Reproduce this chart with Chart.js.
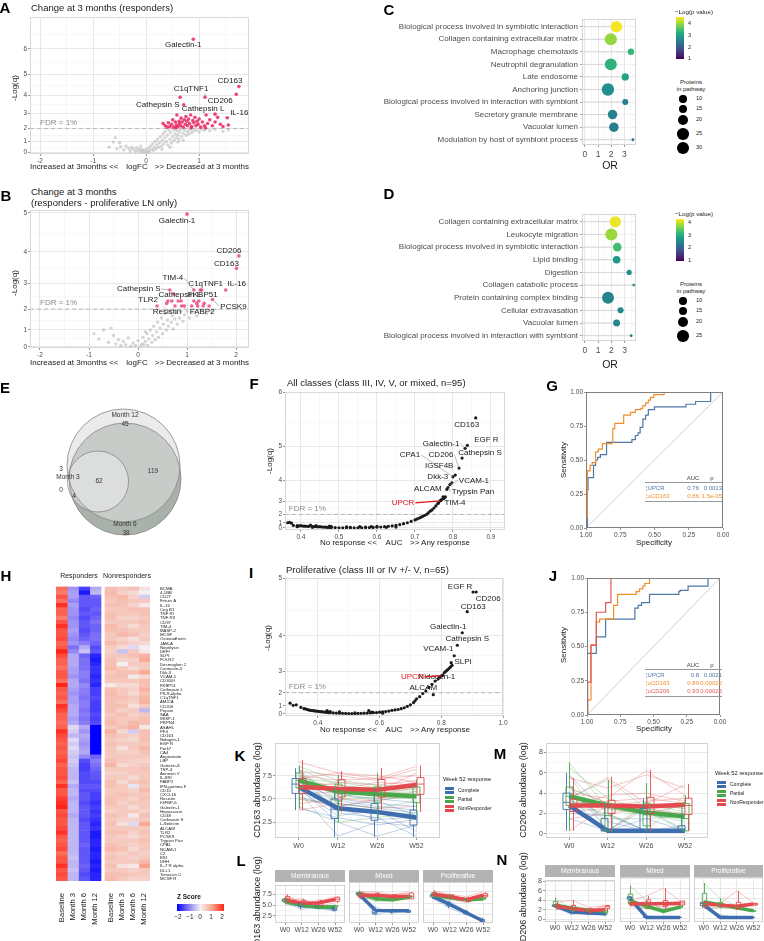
<!DOCTYPE html>
<html>
<head>
<meta charset="utf-8">
<title>Urine proteomics figure</title>
<script src="https://cdn.jsdelivr.net/npm/chart.js@4.4.1/dist/chart.umd.min.js"></script>
<style>
  body { margin: 0; background: #fff; }
  #stage { position: relative; width: 764px; height: 941px; overflow: hidden; font-family: 'Liberation Sans', Arial, sans-serif; color: #1a1a1a; }
  #stage canvas { position: absolute; }
  .t { position: absolute; white-space: nowrap; line-height: 1; z-index: 2; }
</style>
</head>
<body>
<div id="stage"></div>
<script>
// ---------- A: change at 3 months (responders) ----------
const logfcTicks = [-2, -1, 0, 1, 2];
const aYTicks = [0, 1, 2, 3, 4, 5, 6];
const aGray = [[-0.70,0.50],[-0.62,0.95],[-0.58,1.32],[-0.55,0.35],[-0.50,0.90],[-0.48,0.55],[-0.42,0.25],[-0.38,0.60],[-0.33,0.40],[-0.30,0.15],
  [-0.27,0.50],[-0.24,0.30],[-0.20,0.10],[-0.18,0.45],[-0.15,0.20],[-0.12,0.35],[-0.10,0.05],[-0.08,0.25],[-0.05,0.10],[-0.03,0.30],
  [0.00,0.02],[0.02,0.15],[0.04,0.40],[0.06,0.10],[0.08,0.60],[0.10,0.30],[0.12,0.80],[0.14,0.20],[0.15,0.50],[0.17,1.00],
  [0.19,0.35],[0.20,0.70],[0.22,1.20],[0.24,0.50],[0.25,0.90],[0.27,1.40],[0.29,0.60],[0.30,1.10],[0.32,1.60],[0.33,0.80],
  [0.35,1.30],[0.36,1.80],[0.38,1.00],[0.40,1.50],[0.41,0.70],[0.43,1.90],[0.45,1.20],[0.46,1.70],[0.48,0.90],[0.50,1.40],
  [0.52,1.90],[0.53,1.10],[0.55,1.60],[0.57,1.30],[0.58,1.85],[0.60,1.50],[0.62,1.20],[0.63,1.75],[0.65,1.95],[0.67,1.40],
  [0.70,1.65],[0.72,1.90],[0.75,1.50],[0.78,1.80],[0.80,1.60],[0.83,1.95],[0.86,1.70],[0.90,1.85],[0.95,1.90],[1.00,1.75],
  [1.05,1.95],[0.70,1.10],[0.60,0.95],[0.45,0.50],[0.30,0.30],[-0.10,0.60],[1.10,1.90],[1.20,1.85],[1.30,1.95],[1.45,1.80],[1.55,1.92]];
const aSig = [[0.32,2.35],[0.36,2.20],[0.40,2.10],[0.42,2.40],[0.45,2.15],[0.48,2.30],[0.50,2.60],[0.52,2.10],[0.55,2.45],[0.57,2.25],
  [0.58,2.90],[0.60,2.15],[0.62,2.50],[0.63,2.35],[0.65,2.20],[0.66,2.70],[0.68,2.45],[0.70,2.10],[0.72,2.60],[0.74,2.30],
  [0.75,2.80],[0.77,2.50],[0.78,2.20],[0.80,2.65],[0.82,2.35],[0.84,2.90],[0.86,2.15],[0.88,2.55],[0.90,2.40],[0.92,2.75],
  [0.94,2.20],[0.96,2.50],[0.98,2.30],[1.00,2.65],[1.03,2.10],[1.06,2.45],[1.10,2.20],[1.13,2.90],[1.16,2.35],[1.20,2.60],
  [1.25,2.20],[1.30,2.45],[1.35,2.75],[1.40,2.30],[1.45,2.15],[1.55,2.25],[0.56,2.05],[0.85,2.05],[1.12,2.05],[0.64,3.90]];
const aTagNames = ['Galectin-1', 'CD163', 'CD206', 'C1qTNF1', 'Cathepsin S', 'Cathepsin L', 'IL-16'];
const aTagX = [0.89, 1.75, 1.70, 1.11, 0.71, 1.30, 1.53];
const aTagY = [6.35, 4.43, 4.05, 3.90, 3.50, 2.95, 2.73];

// ---------- B: change at 3 months (proliferative only) ----------
const bYTicks = [0, 1, 2, 3, 4, 5];
const bGray = [[-0.90,0.80],[-0.80,0.50],[-0.70,1.00],[-0.60,0.30],[-0.50,0.70],[-0.45,0.20],[-0.40,0.45],[-0.35,0.10],[-0.30,0.35],[-0.25,0.15],
  [-0.20,0.55],[-0.15,0.05],[-0.10,0.25],[-0.05,0.10],[0.00,0.40],[0.05,0.05],[0.08,0.20],[0.10,0.60],[0.12,0.15],[0.15,0.35],
  [0.18,0.80],[0.20,0.10],[0.22,0.50],[0.25,1.00],[0.28,0.30],[0.30,0.70],[0.32,1.20],[0.35,0.45],[0.38,0.90],[0.40,1.40],
  [0.42,0.60],[0.45,1.10],[0.48,1.60],[0.50,0.80],[0.52,1.30],[0.55,1.80],[0.58,1.00],[0.60,1.50],[0.62,1.20],[0.65,1.90],
  [0.68,1.40],[0.70,1.70],[0.72,1.05],[0.75,1.55],[0.78,1.85],[0.80,1.30],[0.85,1.60],[0.88,1.90],[0.92,1.45],[0.95,1.75],
  [1.00,1.90],[1.05,1.60],[1.10,1.85],[1.20,1.70],[1.30,1.95],[1.40,1.80],[1.50,1.90],[-0.55,1.10],[0.15,0.90]];
const bSig = [[0.73,2.61],[1.27,2.76],[0.61,2.34],[0.82,2.34],[0.88,2.34],[1.14,2.34],[0.89,2.13],[0.945,2.13],[1.095,2.13],[1.218,2.13],
  [1.45,2.13],[1.20,2.24],[1.35,2.24],[0.585,2.24]];
const bTagNames = ['Galectin-1', 'CD206', 'CD163', 'IL-16', 'C1qTNF1', 'TIM-4', 'Cathepsin S', 'Cathepsin L', 'FKBP51', 'TLR2', 'PCSK9', 'Resistin', 'FABP2'];
const bTagX = [1.00, 2.06, 2.01, 1.79, 1.30, 1.14, 0.65, 0.69, 1.24, 0.39, 1.52, 0.755, 1.33];
const bTagY = [4.97, 3.88, 3.50, 2.76, 2.76, 2.76, 2.76, 2.34, 2.34, 2.13, 2.40, 2.13, 2.13];

// ---------- C / D: enrichment ----------
const cTerms = ['Biological process involved in symbiotic interaction', 'Collagen containing extracellular matrix', 'Macrophage chemotaxis',
  'Neutrophil degranulation', 'Late endosome', 'Anchoring junction', 'Biological process involved in interaction with symbiont',
  'Secretory granule membrane', 'Vacuolar lumen', 'Modulation by host of symbiont process'];
const cOR = [2.40, 1.97, 3.50, 1.97, 3.07, 1.75, 3.07, 2.10, 2.20, 3.65];
const cLogP = [4.40, 3.90, 3.30, 3.20, 3.00, 2.70, 2.50, 2.50, 2.45, 2.40];
const cCount = [25, 28, 8, 27, 10, 29, 7, 17, 17, 1.5];
const dTerms = ['Collagen containing extracellular matrix', 'Leukocyte migration', 'Biological process involved in symbiotic interaction',
  'Lipid binding', 'Digestion', 'Collagen catabolic process', 'Protein containing complex binding', 'Cellular extravasation',
  'Vacuolar lumen', 'Biological process involved in interaction with symbiont'];
const dOR = [2.30, 2.00, 2.45, 2.40, 3.35, 3.70, 1.75, 2.70, 2.40, 3.50];
const dLogP = [4.20, 3.80, 3.30, 2.75, 2.60, 2.60, 2.45, 2.50, 2.50, 2.40];
const dCount = [24, 27, 14, 11, 5, 1.5, 27, 7, 9, 1.5];
const orTicks = [0, 1, 2, 3];

// ---------- E: Venn ----------
const vennSets = ['Month 12', 'Month 6', 'Month 3'];
const vennCx = [0, 0.027, -0.451];
const vennCy = [0, -0.239, -0.283];
const vennR = [1, 0.991, 0.54];

// ---------- F / I: AUC vs -log(q) ----------
const fXTicks = [0.4, 0.5, 0.6, 0.7, 0.8, 0.9];
const fYTicks = [0, 1, 2, 3, 4, 5, 6];
const fPts = [[0.365,1.00],[0.370,1.05],[0.375,0.95],[0.380,0.55],[0.390,0.50],[0.395,0.45],[0.400,0.50],[0.405,0.42],[0.410,0.40],[0.415,0.38],
  [0.420,0.35],[0.425,0.60],[0.430,0.32],[0.435,0.30],[0.440,0.28],[0.445,0.25],[0.450,0.30],[0.455,0.22],[0.460,0.20],[0.465,0.18],
  [0.470,0.15],[0.475,0.12],[0.480,0.10],[0.490,0.08],[0.500,0.05],[0.510,0.03],[0.520,0.02],[0.530,0.02],[0.540,0.03],[0.550,0.05],
  [0.560,0.04],[0.570,0.08],[0.580,0.10],[0.590,0.12],[0.600,0.18],[0.610,0.22],[0.620,0.30],[0.630,0.38],[0.640,0.45],[0.650,0.55],
  [0.660,0.70],[0.670,0.85],[0.680,1.00],[0.690,1.20],[0.700,1.40],[0.705,1.50],[0.710,1.60],[0.715,1.70],[0.720,1.80],[0.725,1.90],
  [0.730,2.00],[0.735,2.15],[0.740,2.30],[0.745,2.40],[0.750,2.55],[0.755,2.70],[0.760,2.85],[0.762,2.90],[0.768,3.05],[0.770,3.10],
  [0.775,3.15],[0.778,3.20],[0.780,3.25],[0.530,0.15],[0.520,0.25],[0.570,0.20],[0.600,0.35],[0.440,0.50],[0.480,0.30],[0.650,0.20],
  [0.555,0.30],[0.475,0.40],[0.430,0.15],[0.390,0.30],[0.585,0.28],[0.625,0.15]];
const fTagNames = ['CD163', 'EGF R', 'Galectin-1', 'Cathepsin S', 'CD206', 'CPA1', 'IGSF4B', 'Dkk-3', 'VCAM-1', 'Trypsin Pan', 'ALCAM', 'TIM-4', 'UPCR'];
const fTagX = [0.860, 0.838, 0.832, 0.824, 0.816, 0.800, 0.806, 0.797, 0.792, 0.787, 0.784, 0.774, 0.766];
const fTagY = [5.58, 5.02, 4.95, 4.70, 4.41, 4.12, 4.18, 3.89, 3.82, 3.70, 3.62, 3.25, 3.02];
const iXTicks = [0.4, 0.6, 0.8, 1.0];
const iYTicks = [0, 1, 2, 3, 4, 5];
const iPts = [[0.310,1.25],[0.320,1.05],[0.330,1.10],[0.345,0.85],[0.355,0.70],[0.360,0.68],[0.365,0.60],[0.370,0.55],[0.375,0.50],[0.380,0.48],
  [0.385,0.45],[0.390,0.42],[0.395,0.40],[0.400,0.38],[0.405,0.35],[0.410,0.32],[0.415,0.30],[0.420,0.28],[0.425,0.25],[0.430,0.45],
  [0.430,0.22],[0.435,0.20],[0.440,0.18],[0.450,0.15],[0.460,0.12],[0.470,0.10],[0.480,0.08],[0.490,0.06],[0.500,0.05],[0.510,0.04],
  [0.520,0.05],[0.530,0.06],[0.540,0.08],[0.550,0.10],[0.560,0.12],[0.565,0.45],[0.570,0.15],[0.580,0.18],[0.590,0.20],[0.600,0.25],
  [0.610,0.30],[0.620,0.35],[0.630,0.40],[0.640,0.50],[0.650,0.55],[0.660,0.60],[0.670,0.70],[0.680,0.80],[0.690,0.95],[0.700,1.10],
  [0.710,1.30],[0.715,1.45],[0.720,1.60],[0.730,1.75],[0.740,1.95],[0.750,2.10],[0.760,2.30],[0.770,2.45],[0.780,2.60],[0.790,2.70],
  [0.795,2.78],[0.810,2.95],[0.815,3.00],[0.820,3.05],[0.825,3.10],[0.830,3.15],[0.835,3.20],[0.470,0.30],[0.520,0.15],[0.440,0.35],
  [0.575,0.25],[0.610,0.10]];
const iTagNames = ['EGF R', 'CD206', 'CD163', 'Galectin-1', 'Cathepsin S', 'VCAM-1', 'SLPI', 'Nidogen-1', 'UPCR', 'ALCAM'];
const iTagX = [0.903, 0.913, 0.884, 0.868, 0.852, 0.842, 0.832, 0.805, 0.800, 0.774];
const iTagY = [4.80, 4.80, 4.48, 4.07, 3.78, 3.50, 3.29, 2.85, 2.82, 1.88];

// ---------- G / J: ROC ----------
const rocTicks = [0, 0.25, 0.5, 0.75, 1];
const gUpcrSpec = [1.00,0.99,0.985,0.945,0.93,0.915,0.895,0.85,0.665,0.64,0.62,0.605,0.585,0.565,0.545,0.50,0.27,0.20,0.09,0.00];
const gUpcrSens = [0.00,0.28,0.37,0.46,0.50,0.52,0.54,0.63,0.65,0.68,0.70,0.74,0.80,0.83,0.87,0.89,0.91,0.93,1.00,1.00];
const gCd163Spec = [1.00,1.00,0.99,0.97,0.955,0.93,0.91,0.88,0.81,0.805,0.79,0.725,0.675,0.64,0.60,0.585,0.565,0.545,0.53,0.505,0.43,0.00];
const gCd163Sens = [0.00,0.08,0.42,0.46,0.48,0.56,0.58,0.62,0.63,0.73,0.77,0.83,0.85,0.87,0.88,0.90,0.92,0.94,0.96,0.98,1.00,1.00];
const jUpcrSpec = [1.00,1.00,0.93,0.86,0.64,0.615,0.59,0.53,0.31,0.30,0.24,0.09,0.00];
const jUpcrSens = [0.00,0.45,0.57,0.70,0.78,0.80,0.82,0.88,0.90,0.91,0.94,1.00,1.00];
const jCd163Spec = [1.00,0.995,0.97,0.93,0.905,0.80,0.77,0.63,0.605,0.58,0.565,0.53,0.00];
const jCd163Sens = [0.00,0.11,0.51,0.68,0.70,0.80,0.88,0.90,0.92,0.94,0.96,1.00,1.00];
const jCd206Spec = [1.00,0.995,0.97,0.93,0.86,0.82,0.00];
const jCd206Sens = [0.00,0.24,0.51,0.75,0.82,1.00,1.00];

// ---------- H: heatmap ----------
const heatRows = ['BCMA','4-1BB','CD27','Fetuin A','IL-16','Cng B1','TNF RI','TNF RII','CD97','TIM-4','MASP-2','MCSF','Osteoadherin','JAM-A',
  'Neprilysin','DEFI','SLPI','FOLR2','Desmoglein 2','Contactin-4','Dkk-3','VCAM-1','CD300f','FKBP51','Cathepsin L','PILR-alpha','C1qTNF1',
  'AMICA','CD206','Pepsin','SAA','WISP-1','PRPN4','ASAHL','PF4','CD163','Nidogen-1','EGF R','Park7','CA4','Angiostatin','LBP','Galectin-8',
  'TSP-4','Annexin V','IL-8RI','FABP2','IFN-gamma R1','CD10','CXCL16','Resistin','IGFBP-6','Galectin-1','Hepassocin','CD48','Cathepsin S',
  'L-Selectin','ALCAM','TLR2','PCSK9','Trypsin Pan','CPA1','NCAM-1','C2','ESI','DHH','IL-7 R alpha','DLL1','Tenascin C','MCSF R'];
const heatCols = ['Baseline', 'Month 3', 'Month 6', 'Month 12'];
const zRespBase = [1.4,1.3,1.6,1.4,1.9,1.5,1.5,1.3,1.6,1.9, 1.6,1.6,1.7,1.5,1.6,2.3,1.7,1.5,1.5,1.4, 1.6,1.6,1.4,2.3,1.6,1.5,1.6,1.4,1.9,1.7,
  1.5,1.5,1.4,1.5,1.9,1.7,1.6,1.5,1.6,1.5, 1.6,1.7,1.5,1.6,1.6,1.7,1.5,1.9,1.6,1.6, 1.8,1.9,2.0,1.6,1.7,1.6,1.6,1.7,1.9,1.6, 1.5,1.6,1.7,1.4,1.6,1.6,1.9,1.6,1.7,1.6];
const zRespM3 = [-0.8,-0.7,-0.7,-0.9,-0.7,-0.8,-0.8,-0.9,-0.8,-0.8, -0.7,-0.8,-0.9,-0.8,-1.1,-0.9,-0.6,-0.6,-0.6,-0.7, -0.7,-0.8,-0.6,-0.6,-0.7,-0.8,-0.7,-0.7,-0.6,-0.6,
  -0.6,-0.7,-0.6,-0.2,-0.3,-0.5,-0.2,-0.3,-0.2,-0.3, -0.4,-0.3,-0.4,-0.5,-0.5,-0.5,-0.4,-0.6,-0.5,-0.5, -0.6,-0.5,-0.5,-0.5,-0.6,-0.5,-0.5,-0.5,-0.5,-0.5, -0.5,-0.5,-0.5,-0.5,-0.4,-0.5,-0.5,-0.4,-0.5,-0.5];
const zRespM6 = [-1.5,-1.8,-1.3,-1.3,-1.3,-1.4,-1.3,-1.4,-1.3,-1.3, -1.4,-1.3,-1.2,-1.0,-0.6,-0.4,-1.2,-1.1,-1.1,-1.1, -1.0,-1.0,-1.1,-0.9,-1.0,-1.0,-1.1,-1.0,-1.0,-1.1,
  -1.0,-1.1,-1.0,-0.6,-0.8,-0.6,-0.7,-0.8,-0.7,-0.6, -0.9,-1.4,-1.5,-1.5,-1.4,-1.4,-1.4,-1.3,-1.4,-1.3, -1.3,-1.4,-1.3,-1.3,-1.3,-1.4,-1.3,-1.3,-1.3,-1.3, -1.3,-1.2,-1.3,-1.3,-1.3,-1.3,-1.2,-1.3,-1.4,-1.3];
const zRespM12 = [-0.6,-0.5,-1.2,-1.3,-1.3,-1.2,-1.3,-1.2,-1.1,-1.2, -1.2,-1.1,-1.1,-1.2,-1.4,-1.3,-1.7,-1.8,-1.7,-1.6, -1.6,-1.7,-1.6,-1.7,-1.5,-1.5,-1.4,-1.5,-1.5,-1.5,
  -1.4,-1.5,-1.4,-2.3,-2.2,-2.5,-2.5,-2.4,-2.5,-2.3, -1.2,-1.0,-1.1,-1.2,-1.3,-1.3,-1.4,-1.3,-1.4,-1.5, -1.5,-1.6,-1.5,-1.6,-1.5,-1.6,-1.7,-1.6,-1.8,-1.8, -1.7,-1.7,-1.8,-1.7,-1.7,-1.8,-1.7,-1.8,-1.7,-1.7];
const zNonBase = [0.6,0.7,0.6,0.5,0.6,0.5,0.6,0.6,0.5,0.7, 0.6,0.5,0.5,0.7,0.5,0.4,0.5,0.6,0.6,0.7, 0.5,0.6,0.5,0.1,0.6,0.7,0.6,0.6,0.6,0.6,
  0.5,0.6,0.7,0.5,0.8,0.6,0.5,0.6,0.5,0.5, 0.5,0.6,0.8,0.5,0.4,0.5,0.6,0.6,0.5,0.5, 0.6,0.6,0.5,0.4,0.6,0.5,0.6,0.5,0.6,0.5, 0.5,0.6,0.7,0.5,0.6,0.5,0.6,0.5,0.6,0.7];
const zNonM3 = [0.5,0.4,0.7,0.6,0.6,0.5,0.5,0.4,0.5,0.5, 0.6,0.7,0.4,0.5,0.3,-0.4,0.5,0.4,0.0,0.5, 0.6,0.6,0.5,0.3,0.5,0.5,0.6,0.5,0.6,0.4,
  0.6,0.5,0.5,0.6,0.3,0.5,0.4,0.5,0.2,0.4, 0.5,0.5,0.3,0.5,0.4,0.5,0.3,0.5,0.5,0.6, 0.5,0.4,0.5,0.5,0.5,0.4,0.2,0.5,0.6,0.4, 0.5,0.5,0.6,0.4,0.5,0.5,0.2,0.5,0.6,0.5];
const zNonM6 = [0.6,0.3,0.4,0.5,0.4,0.6,0.5,0.4,0.5,0.3, 0.5,0.6,0.2,0.4,-0.2,0.5,0.6,0.4,0.5,0.3, 0.6,0.1,0.5,0.3,0.4,0.3,0.5,0.4,0.2,0.5,
  0.4,0.5,0.7,0.8,-0.3,0.4,0.3,0.5,0.5,0.4, 0.5,0.4,0.4,0.5,0.5,0.3,0.5,-0.1,0.4,0.5, 0.4,0.5,0.3,0.5,0.1,0.4,-0.2,0.5,0.4,0.3, 0.5,0.4,0.3,0.5,0.4,0.5,0.1,0.4,0.5,0.4];
const zNonM12 = [0.2,0.0,-0.3,0.5,0.1,0.6,0.6,0.5,0.6,0.5, 0.5,0.4,0.5,0.3,0.0,0.1,0.8,0.9,0.5,0.5, 0.9,0.3,0.6,0.6,0.8,0.6,0.7,0.8,0.5,-0.5,
  0.5,0.6,0.6,0.1,0.6,0.6,0.6,0.5,0.7,0.6, 0.5,0.4,0.5,0.6,0.5,0.5,0.6,0.5,0.7,0.5, 0.6,0.5,0.5,0.4,0.6,0.5,0.9,0.5,0.6,0.5, 0.6,0.5,0.5,0.4,0.5,0.7,1.0,0.5,0.5,0.4];

// ---------- K / M / L / N: trajectories ----------
const weeks = ['W0', 'W12', 'W26', 'W52'];
const groups = ['Complete', 'Partial', 'NonResponder'];
const kMean = [[6.3,4.0,3.6,3.0], [7.0,5.8,5.5,5.3], [6.3,6.1,6.0,6.5]];
const kBox = [
  [[3.8,5.6,6.6,7.2,8.3], [0.9,2.9,3.9,5.0,6.2], [0.9,2.7,3.6,4.5,6.0], [0.9,2.2,3.0,3.8,5.0]],
  [[4.0,6.2,7.0,7.8,8.6], [2.5,4.8,5.9,6.6,7.6], [3.0,4.6,5.6,6.3,7.8], [3.4,4.6,5.4,6.3,7.0]],
  [[3.8,5.6,6.4,7.2,9.2], [3.6,5.2,6.2,7.1,8.0], [3.8,5.2,6.1,7.1,8.3], [3.6,5.5,6.6,7.3,8.6]]];
const kLines = [
  [[6.5,3.8,3.5,2.8],[7.5,4.5,4.0,3.5],[5.8,1.0,2.5,2.0],[6.8,5.0,4.5,4.2],[7.8,3.5,3.0,1.0],[5.2,4.2,4.8,3.2],[6.2,2.5,1.0,2.2],[7.2,5.5,5.0,4.6],[4.0,3.0,2.2,2.8],[8.2,4.8,4.2,3.8],[6.0,3.2,3.8,1.5],[7.0,4.0,2.8,3.0]],
  [[7.5,6.0,5.8,5.6],[8.2,6.5,6.0,5.8],[6.0,5.0,5.2,5.0],[7.0,5.5,4.8,5.5],[8.5,7.0,6.5,6.2],[5.0,4.5,4.0,4.8],[6.5,6.2,5.5,5.2],[7.8,5.2,5.8,5.4],[4.2,2.5,3.0,3.5],[7.2,6.8,6.2,6.0]],
  [[6.5,6.2,6.0,6.8],[7.5,7.0,7.2,7.5],[5.5,5.8,5.5,6.2],[8.0,7.5,7.0,8.2],[4.5,5.0,4.8,5.5],[6.0,6.8,6.5,7.0],[9.0,7.8,7.2,8.5],[5.0,4.2,5.0,5.8],[7.0,6.0,6.8,6.5],[6.8,6.5,5.8,7.8],[3.8,4.5,4.0,4.2],[7.2,7.8,7.5,6.8]]];
const mMean = [[2.8,0.3,0.3,0.3], [3.7,2.8,2.1,1.7], [2.8,2.8,2.7,2.85]];
const mBox = [
  [[0.3,2.4,3.1,4.0,6.0], [0.3,0.3,0.3,1.5,3.0], [0.3,0.3,0.3,2.5,3.5], [0.3,0.3,0.3,0.8,2.0]],
  [[0.3,2.8,3.7,4.6,7.0], [0.3,0.3,1.8,3.0,5.3], [0.3,0.8,1.9,3.0,5.0], [0.3,0.3,1.5,3.0,3.8]],
  [[0.3,2.2,2.8,3.4,5.5], [0.3,2.0,2.7,3.3,5.6], [0.3,2.0,2.8,3.6,6.3], [0.3,1.9,2.8,3.5,4.9]]];
const mLines = [
  [[3.5,0.3,0.3,0.3],[5.8,2.0,0.3,0.3],[2.5,0.3,1.5,0.3],[4.2,1.2,0.3,0.3],[3.0,0.3,0.3,0.8],[2.0,1.8,0.3,0.3],[4.8,0.3,2.5,0.3],[1.5,0.3,0.3,0.3]],
  [[7.0,2.5,1.8,1.5],[4.5,3.0,2.0,1.2],[3.5,5.3,2.5,2.0],[5.8,0.3,3.0,2.5],[2.8,2.0,0.3,3.8],[6.5,3.5,2.2,0.3],[4.0,1.5,1.5,1.8],[3.2,2.8,2.8,2.2]],
  [[3.0,3.2,3.5,3.0],[5.5,4.5,5.8,4.5],[2.2,2.5,2.0,2.8],[4.0,3.5,6.2,3.8],[1.5,2.0,2.5,1.8],[3.5,5.5,3.0,4.8],[2.8,0.3,2.8,2.5],[0.3,2.8,3.2,3.5],[4.5,3.0,2.2,2.0],[2.5,3.8,4.0,3.2]]];
const classes = ['Membranous', 'Mixed', 'Proliferative'];
const lMean = [
  [[6.0,4.8,4.6,4.3], [5.8,5.0,4.4,4.6], [6.2,5.4,5.5,6.3]],
  [[7.0,3.5,3.4,3.4], [7.2,6.0,5.8,6.4], [6.8,6.8,6.5,6.6]],
  [[6.5,4.8,3.0,1.2], [6.8,6.3,5.8,6.0], [7.0,6.5,5.8,6.8]]];
const lLines = [
  [[[6.5,5.2,4.8,4.0],[5.5,4.0,4.5,4.8],[6.2,5.5,4.2,3.5]], [[6.2,5.5,4.2,4.8],[5.2,4.8,4.6,4.2],[6.8,5.0,4.8,5.0]], [[6.8,6.0,5.8,7.0],[5.5,4.8,6.2,6.0],[7.5,5.5,5.0,6.8],[6.0,6.5,4.8,5.5]]],
  [[[7.5,3.0,3.8,3.0],[6.5,4.2,2.8,3.8],[7.2,2.5,3.5,3.2]], [[7.8,6.5,6.0,6.8],[6.5,5.5,5.5,6.0],[7.0,6.2,6.2,6.5]], [[7.5,7.5,7.0,7.2],[6.0,6.2,6.0,6.0],[7.2,7.0,6.8,7.5],[6.5,6.8,6.2,6.0]]],
  [[[7.0,5.0,3.5,1.0],[6.0,4.0,2.5,1.8],[6.8,5.5,3.2,1.2]], [[7.5,6.8,6.0,6.5],[6.2,5.8,5.5,5.8],[7.0,6.5,5.8,6.0]], [[7.8,7.0,6.5,7.5],[6.5,6.0,5.2,6.2],[7.2,6.8,5.5,7.0],[6.8,6.2,6.0,6.5]]]];
const nMean = [
  [[2.8,1.5,1.3,1.2], [3.0,2.3,1.9,1.7], [2.8,2.2,1.8,2.0]],
  [[4.0,0.3,0.3,0.3], [3.5,2.5,1.5,2.3], [3.0,2.9,3.0,3.0]],
  [[2.7,0.3,0.3,0.3], [3.3,2.8,2.2,1.6], [3.0,2.7,2.5,2.9]]];
const nLines = [
  [[[3.2,1.8,1.0,0.8],[2.5,1.0,1.5,1.5],[2.8,2.0,1.2,1.0]], [[4.5,2.0,1.8,1.5],[2.5,2.8,2.2,2.0],[3.0,1.5,1.5,1.2]], [[3.5,4.0,2.5,2.8],[2.0,2.5,1.2,1.5],[3.0,1.5,2.0,2.5],[2.5,2.2,1.5,3.0]]],
  [[[4.5,0.3,0.3,0.3],[3.5,0.3,0.3,0.3],[4.2,0.6,0.3,0.3]], [[6.5,3.5,1.8,2.5],[2.8,2.0,1.2,2.0],[3.2,2.2,1.5,2.5]], [[3.5,4.5,6.0,3.5],[2.5,2.0,2.5,2.8],[3.2,3.0,2.8,3.5],[2.8,3.5,2.0,2.5]]],
  [[[3.0,0.3,0.3,0.3],[2.2,0.8,0.3,0.3],[3.5,0.3,0.5,0.3]], [[7.0,4.0,2.5,1.5],[2.5,2.2,2.0,1.8],[3.0,2.5,2.2,1.5]], [[3.5,3.0,5.5,3.2],[2.5,2.5,2.0,2.8],[3.2,2.8,1.8,3.0],[2.0,2.2,2.5,2.5]]]];

// ================= helpers =================
const stage = document.getElementById('stage');
const FONT = "'Liberation Sans', Arial, Helvetica, sans-serif";
Chart.defaults.font.family = FONT;
Chart.defaults.color = '#4d4d4d';
Chart.defaults.animation = false;
Chart.defaults.responsive = false;
Chart.defaults.events = [];
Chart.defaults.plugins.legend.display = false;
Chart.defaults.plugins.tooltip.enabled = false;

const GRID = '#e4e4e4', GRID_MINOR = '#f2f2f2';
const GC = ['#3e6eae', '#4aa84b', '#e34a4f'];
const GCA = ['rgba(62,110,174,0.45)', 'rgba(74,168,75,0.45)', 'rgba(227,74,79,0.45)'];
const DODGE = [-0.09, 0, 0.09];
const RED = '#e8141c';

function hexRgb(h) { const n = parseInt(h.slice(1), 16); return [n >> 16, (n >> 8) & 255, n & 255]; }
function mix(a, b, t) {
  const A = hexRgb(a), B = hexRgb(b);
  return 'rgb(' + A.map((v, i) => Math.round(v + (B[i] - v) * t)).join(',') + ')';
}
const VIR = ['#440154','#482475','#414487','#355f8d','#2a788e','#21918c','#22a884','#44bf70','#7ad151','#bddf26','#fde725'];
function viridis(t) {
  t = Math.max(0, Math.min(1, t));
  const p = t * 10, i = Math.min(9, Math.floor(p));
  return mix(VIR[i], VIR[i + 1], p - i);
}
const ZSTOPS = [[-2, '#0000ff'], [-1, '#8a7cf6'], [0, '#f4f0f2'], [1, '#f8a28b'], [2, '#ff2418']];
function zColor(z) {
  z = Math.max(-2, Math.min(2, z));
  for (let i = 0; i < ZSTOPS.length - 1; i++) {
    if (z <= ZSTOPS[i + 1][0]) return mix(ZSTOPS[i][1], ZSTOPS[i + 1][1], (z - ZSTOPS[i][0]) / (ZSTOPS[i + 1][0] - ZSTOPS[i][0]));
  }
  return ZSTOPS[ZSTOPS.length - 1][1];
}
const sizeR = n => 1.15 * Math.sqrt(n);
// stretched -log(q) axis used in the volcano-type panels
const expo = b => y => (Math.pow(b, y) - 1) / (b - 1);

function txt(x, y, s, size, o) {
  o = o || {};
  const d = document.createElement('div');
  d.className = 't';
  d.textContent = s;
  const tx = o.a === 'c' ? '-50%' : o.a === 'r' ? '-100%' : '0';
  d.style.cssText += `left:${x}px;top:${y}px;font-size:${size}px;transform:translate(${tx},-50%)${o.rot ? ' rotate(-90deg)' : ''};` + (o.css || '');
  stage.appendChild(d);
  return d;
}
function rect(x, y, w, h, css) {
  const d = document.createElement('div');
  d.style.cssText = `position:absolute;left:${x}px;top:${y}px;width:${w}px;height:${h}px;` + css;
  stage.appendChild(d);
  return d;
}

function mount(b) {
  const c = document.createElement('canvas');
  const x = b.L - b.ml, y = b.T - b.mt, w = b.R + b.mr - x, h = b.B + b.mb - y;
  c.width = w; c.height = h;
  c.style.left = x + 'px'; c.style.top = y + 'px';
  c.style.width = w + 'px'; c.style.height = h + 'px';
  stage.appendChild(c);
  return c;
}
function pad(b, yShown) { return { top: b.mt, right: b.mr, left: yShown ? 0 : b.ml, bottom: 0 }; }

// linear axis with fixed major ticks, optional minor grid lines between them
function mkAxis(o) {
  const f = o.map || (v => v);
  let vals = o.major.slice();
  if (o.minor) {
    const st = vals[1] - vals[0], mids = [vals[0] - st / 2, vals[vals.length - 1] + st / 2];
    for (let i = 0; i < vals.length - 1; i++) mids.push((vals[i] + vals[i + 1]) / 2);
    vals = vals.concat(mids);
  }
  vals = vals.filter(v => f(v) >= o.min - 1e-9 && f(v) <= o.max + 1e-9).sort((a, b) => a - b);
  const labels = vals.map(v => o.major.includes(v) ? (o.fmt ? o.fmt(v) : String(v)) : '');
  const hide = o.hideLabels;
  return {
    type: 'linear', min: o.min, max: o.max, reverse: !!o.reverse,
    afterBuildTicks: s => { s.ticks = vals.map(v => ({ value: f(v) })); },
    afterFit: s => { if (s.isHorizontal()) s.height = o.size; else s.width = o.size; },
    ticks: { display: !hide, callback: (v, i) => labels[i], font: { size: o.fs || 6.5 }, color: o.tc || '#4d4d4d',
      padding: o.pad == null ? 1 : o.pad, autoSkip: false, maxRotation: 0, minRotation: 0 },
    grid: {
      drawOnChartArea: o.grid !== false,
      color: c => labels[c.index] === '' ? GRID_MINOR : GRID,
      lineWidth: c => labels[c.index] === '' ? 0.6 : 0.9,
      drawTicks: !hide, tickLength: o.tl == null ? 2 : o.tl,
      tickColor: c => labels[c.index] === '' ? 'rgba(0,0,0,0)' : '#8c8c8c'
    },
    border: { display: false }
  };
}

// ---------- plugins ----------
const framePlugin = {
  id: 'frame',
  afterDatasetsDraw(chart, args, o) {
    if (!o.color) return;
    const a = chart.chartArea, ctx = chart.ctx;
    ctx.save();
    ctx.strokeStyle = o.color; ctx.lineWidth = o.width || 1;
    ctx.strokeRect(Math.round(a.left) + 0.5, Math.round(a.top) + 0.5, Math.round(a.width) - 1, Math.round(a.height) - 1);
    ctx.restore();
  }
};
const boxPlugin = {
  id: 'boxes',
  afterDatasetsDraw(chart, args, o) {
    if (!o.items) return;
    const ctx = chart.ctx, xs = chart.scales.x, ys = chart.scales.y, hw = o.halfWidth;
    ctx.save();
    ctx.lineWidth = 0.9;
    o.items.forEach(b => {
      const cx = Math.round(xs.getPixelForValue(b.x)) + 0.5;
      const [lo, q1, med, q3, hi] = b.s.map(v => ys.getPixelForValue(v));
      ctx.strokeStyle = b.color;
      ctx.beginPath();
      ctx.moveTo(cx, lo); ctx.lineTo(cx, q1);
      ctx.moveTo(cx, q3); ctx.lineTo(cx, hi);
      ctx.rect(cx - hw, q3, 2 * hw, q1 - q3);
      ctx.moveTo(cx - hw, med); ctx.lineTo(cx + hw, med);
      ctx.stroke();
    });
    ctx.restore();
  }
};
const tagPlugin = {
  id: 'tags',
  afterDatasetsDraw(chart, args, o) {
    if (!o.items) return;
    const ctx = chart.ctx, xs = chart.scales.x, ys = chart.scales.y;
    ctx.save();
    ctx.font = o.font;
    ctx.textBaseline = 'middle';
    o.items.forEach(it => {
      const px = xs.getPixelForValue(it.x), py = ys.getPixelForValue(it.y);
      const tx = px + it.dx, ty = py + it.dy, align = it.align || 'center';
      const w = ctx.measureText(it.text).width;
      if (it.line) {
        const left = align === 'left' ? tx : tx - w / 2, right = left + w;
        const ex = px < left ? left - 1 : px > right ? right + 1 : px;
        const ey = ex === px ? ty + (py > ty ? 4 : -4) : ty;
        ctx.strokeStyle = it.lineColor || '#8c8c8c';
        ctx.lineWidth = it.lineWidth || 0.6;
        ctx.beginPath(); ctx.moveTo(px, py); ctx.lineTo(ex, ey); ctx.stroke();
      }
      ctx.fillStyle = it.color || '#1a1a1a';
      ctx.textAlign = align;
      ctx.fillText(it.text, tx, ty);
    });
    ctx.restore();
  }
};
const vennPlugin = {
  id: 'venn',
  beforeDatasetsDraw(chart, args, o) {
    if (!o.circles) return;
    const ctx = chart.ctx, xs = chart.scales.x, ys = chart.scales.y;
    const geo = o.circles.map(c => {
      const px = xs.getPixelForValue(c.x), py = ys.getPixelForValue(c.y);
      return { px, py, r: Math.abs(xs.getPixelForValue(c.x + c.r) - px), fill: c.fill };
    });
    ctx.save();
    o.order.forEach(i => { const g = geo[i]; ctx.beginPath(); ctx.arc(g.px, g.py, g.r, 0, Math.PI * 2); ctx.fillStyle = g.fill; ctx.fill(); });
    ctx.strokeStyle = '#858585'; ctx.lineWidth = 0.8;
    geo.forEach(g => { ctx.beginPath(); ctx.arc(g.px, g.py, g.r, 0, Math.PI * 2); ctx.stroke(); });
    ctx.restore();
  }
};
Chart.register(framePlugin, boxPlugin, tagPlugin, vennPlugin);

function tagsFrom(names, xs, ys, offs, extra) {
  return names.map((n, i) => Object.assign({ text: n, x: xs[i], y: ys[i], dx: offs[n][0], dy: offs[n][1], line: !!offs[n][2] }, (extra && extra[n]) || {}));
}

// ---------- chart builders ----------
function volcano(b, o) {
  const f = expo(o.base);
  const P = arr => arr.map(p => ({ x: p[0], y: f(p[1]) }));
  const fdr = f(2);
  const items = o.tags.map(t => Object.assign({}, t, { y: f(t.y) }));
  items.unshift({ x: o.fdrX, y: fdr, text: 'FDR = 1%', dx: 0, dy: -6, color: '#8a8a8a', align: 'left' });
  new Chart(mount(b), {
    type: 'scatter',
    data: { datasets: [
      { data: P(o.hi), backgroundColor: o.hiColor, pointRadius: o.hiR, borderWidth: 0 },
      { data: P(o.lo), backgroundColor: 'rgba(178,178,178,0.55)', pointRadius: 1.7, borderWidth: 0 },
      { type: 'line', data: [{ x: o.xMin, y: fdr }, { x: o.xMax, y: fdr }], borderColor: '#b3b3b3', borderWidth: 0.9, borderDash: [4, 3], pointRadius: 0 }
    ] },
    options: {
      layout: { padding: pad(b, true) },
      scales: {
        x: mkAxis({ min: o.xMin, max: o.xMax, major: o.xTicks, minor: true, size: b.mb, fmt: o.xFmt }),
        y: mkAxis({ min: o.yMin, max: o.yMax, major: o.yTicks, minor: true, map: f, size: b.ml })
      },
      plugins: { frame: { color: '#d9d9d9' }, tags: { items, font: '8px ' + FONT } }
    }
  });
}

function dotPlot(b, terms, or, logp, count, vmax) {
  const stems = terms.map((t, i) => ({ type: 'line', data: [{ x: -0.22, y: i + 1 }, { x: or[i], y: i + 1 }], borderColor: '#d6d6d6', borderWidth: 1, pointRadius: 0 }));
  const dots = { type: 'bubble', data: terms.map((t, i) => ({ x: or[i], y: i + 1, r: sizeR(count[i]) })),
    backgroundColor: logp.map(v => viridis((v - 1) / (vmax - 1))), borderWidth: 0 };
  new Chart(mount(b), {
    type: 'bubble',
    data: { datasets: [dots].concat(stems) },
    options: {
      layout: { padding: pad(b, true) },
      scales: {
        x: mkAxis({ min: -0.22, max: 3.87, major: orTicks, minor: true, size: b.mb, fs: 8.5, pad: 3 }),
        y: {
          type: 'linear', min: 0.37, max: 10.42, reverse: true,
          afterBuildTicks: s => { s.ticks = terms.map((t, i) => ({ value: i + 1 })); },
          afterFit: s => { s.width = b.ml; },
          ticks: { callback: (v, i) => terms[i], font: { size: 8 }, color: '#4d4d4d', padding: 2, autoSkip: false },
          grid: { color: '#ececec', lineWidth: 0.8, tickLength: 2, tickColor: '#8c8c8c' },
          border: { display: false }
        }
      },
      plugins: { frame: { color: '#d4d4d4' } }
    }
  });
}

function rocChart(b, curves) {
  const ds = curves.map(c => ({ type: 'line', data: c.spec.map((s, i) => ({ x: s, y: c.sens[i] })),
    borderColor: c.color, borderWidth: 1.2, pointRadius: 0, stepped: 'before' }));
  ds.push({ type: 'line', data: [{ x: 1, y: 0 }, { x: 0, y: 1 }], borderColor: '#c4c4c4', borderWidth: 0.8, pointRadius: 0 });
  new Chart(mount(b), {
    type: 'line',
    data: { datasets: ds },
    options: {
      layout: { padding: pad(b, true) },
      scales: {
        x: mkAxis({ min: 0, max: 1, reverse: true, major: rocTicks, grid: false, size: b.mb, fmt: v => v.toFixed(2) }),
        y: mkAxis({ min: 0, max: 1, major: rocTicks, grid: false, size: b.ml, fmt: v => v.toFixed(2) })
      },
      plugins: { frame: { color: '#808080' } }
    }
  });
}

function fiveNum(v) {
  const s = v.slice().sort((a, c) => a - c);
  const q = p => { const i = (s.length - 1) * p, lo = Math.floor(i), hi = Math.min(lo + 1, s.length - 1); return s[lo] + (s[hi] - s[lo]) * (i - lo); };
  return [s[0], q(0.25), q(0.5), q(0.75), s[s.length - 1]];
}

function traj(b, o) {
  const ds = [];
  [2, 1, 0].forEach(g => ds.push({ type: 'line', data: o.mean[g].map((v, i) => ({ x: i, y: v })), borderColor: GC[g], borderWidth: o.meanW, pointRadius: 0 }));
  o.lines.forEach((set, g) => set.forEach(l => ds.push({ type: 'line', data: l.map((v, i) => ({ x: i, y: v })), borderColor: GCA[g], borderWidth: 0.7, pointRadius: 0 })));
  const items = [];
  o.box.forEach((set, g) => set.forEach((s, t) => items.push({ x: t + DODGE[g], s, color: GC[g] })));
  const showY = !o.noY;
  new Chart(mount(b), {
    type: 'line',
    data: { datasets: ds },
    options: {
      layout: { padding: pad(b, true) },
      scales: {
        x: mkAxis({ min: -0.6, max: 3.6, major: [0, 1, 2, 3], size: b.mb, fs: 7, pad: o.xPad == null ? 2 : o.xPad, fmt: v => weeks[v] }),
        y: mkAxis({ min: o.yMin, max: o.yMax, major: o.yTicks, minor: true, size: showY ? b.ml : 0, fs: 7, fmt: o.yFmt, hideLabels: !showY })
      },
      plugins: { frame: { color: '#d2d2d2' }, boxes: { items, halfWidth: o.hw } }
    }
  });
}

// ================= draw =================
// A
volcano({ L: 30, T: 17, R: 249, B: 154, ml: 30, mt: 12, mr: 4, mb: 12 }, {
  base: 1.18, yMin: -0.14, yMax: 12.36, yTicks: aYTicks, xMin: -2.19, xMax: 1.94, xTicks: logfcTicks, fdrX: -2,
  lo: aGray, hi: aSig.concat(aTagX.map((x, i) => [x, aTagY[i]])), hiColor: 'rgba(232,38,98,0.85)', hiR: 1.8,
  tags: tagsFrom(aTagNames, aTagX, aTagY, {
    'Galectin-1': [-10, 6], 'CD163': [-9, -6], 'CD206': [-16, 6], 'C1qTNF1': [-14, -8, 1],
    'Cathepsin S': [-26, 0], 'Cathepsin L': [-12, -5], 'IL-16': [12, -5] })
});
// B
volcano({ L: 30, T: 210, R: 249, B: 348, ml: 30, mt: 5, mr: 4, mb: 12 }, {
  base: 1.23, yMin: -0.06, yMax: 8.06, yTicks: bYTicks, xMin: -2.204, xMax: 2.265, xTicks: logfcTicks, fdrX: -2,
  lo: bGray, hi: bSig.concat(bTagX.map((x, i) => [x, bTagY[i]])), hiColor: 'rgba(236,60,120,0.8)', hiR: 1.8,
  tags: tagsFrom(bTagNames, bTagX, bTagY, {
    'Galectin-1': [-10, 7], 'CD206': [-10, -5], 'CD163': [-10, -5], 'IL-16': [11, -6], 'C1qTNF1': [4, -6],
    'TIM-4': [-21, -12, 1], 'Cathepsin S': [-31, -1, 1], 'Cathepsin L': [8, -6], 'FKBP51': [4, -6], 'TLR2': [-9, -6],
    'PCSK9': [21, 7, 1], 'Resistin': [-8, 6], 'FABP2': [-1, 6] })
});
// C, D
dotPlot({ L: 582, T: 17, R: 638, B: 145, ml: 206, mt: 5, mr: 4, mb: 14 }, cTerms, cOR, cLogP, cCount, 4.45);
dotPlot({ L: 582, T: 212, R: 638, B: 341, ml: 206, mt: 5, mr: 4, mb: 14 }, dTerms, dOR, dLogP, dCount, 4.3);
// E
new Chart(mount({ L: 40, T: 395, R: 210, B: 545, ml: 0, mt: 0, mr: 0, mb: 0 }), {
  type: 'scatter',
  data: { datasets: [{ data: [] }] },
  options: {
    scales: { x: { type: 'linear', display: false, min: -1.478, max: 1.531 }, y: { type: 'linear', display: false, min: -1.407, max: 1.248 } },
    plugins: { venn: { order: [1, 0, 2], circles: vennSets.map((s, i) => ({ x: vennCx[i], y: vennCy[i], r: vennR[i],
      fill: ['rgba(222,222,222,0.6)', '#a9b2aa', 'rgba(255,255,255,0.35)'][i] })) } }
  }
});
// F
volcano({ L: 285, T: 392, R: 505, B: 530, ml: 30, mt: 5, mr: 6, mb: 12 }, {
  base: 1.6, yMin: -0.4, yMax: 26.3, yTicks: fYTicks, xMin: 0.358, xMax: 0.937, xTicks: fXTicks, fdrX: 0.368, xFmt: v => v.toFixed(1),
  lo: [], hi: fPts.concat(fTagX.map((x, i) => [x, fTagY[i]])), hiColor: '#1a1a1a', hiR: 1.6,
  tags: tagsFrom(fTagNames, fTagX, fTagY, {
    'CD163': [-9, 7], 'EGF R': [19, -6], 'Galectin-1': [-24, -5, 1], 'Cathepsin S': [18, -5], 'CD206': [-18, -13, 1],
    'CPA1': [-43, -22, 1], 'IGSF4B': [-16, -9], 'Dkk-3': [-14, -6], 'VCAM-1': [24, -4, 1], 'Trypsin Pan': [25, 4, 1],
    'ALCAM': [-19, -1], 'TIM-4': [12, 6], 'UPCR': [-37, 2, 1] },
    { 'UPCR': { color: RED, lineColor: RED, lineWidth: 1.3 } })
});
// G
rocChart({ L: 586, T: 392, R: 723, B: 528, ml: 36, mt: 6, mr: 8, mb: 10 }, [
  { spec: gCd163Spec, sens: gCd163Sens, color: '#f28e2b' },
  { spec: gUpcrSpec, sens: gUpcrSens, color: '#4e79a7' }]);
// H
(function () {
  const b = { L: 56, T: 586, R: 150, B: 881, ml: 4, mt: 4, mr: 36, mb: 44 };
  const cols = [zRespBase, zRespM3, zRespM6, zRespM12, zNonBase, zNonM3, zNonM6, zNonM12];
  const start = c => c + (c > 3 ? 0.36 : 0);
  const centers = cols.map((z, c) => start(c) + 0.5);
  new Chart(mount(b), {
    type: 'bar',
    data: { labels: heatRows, datasets: cols.map((z, c) => ({
      data: heatRows.map(() => [start(c), start(c) + 1]), backgroundColor: z.map(zColor),
      borderWidth: 0, grouped: false, barPercentage: 1, categoryPercentage: 1 })) },
    options: {
      indexAxis: 'y',
      layout: { padding: { left: b.ml, top: b.mt, right: 0, bottom: 0 } },
      scales: {
        x: { type: 'linear', min: 0, max: 8.36,
          afterBuildTicks: s => { s.ticks = centers.map(v => ({ value: v })); },
          afterFit: s => { s.height = b.mb; },
          ticks: { callback: (v, i) => heatCols[i % 4], font: { size: 7.6 }, color: '#1a1a1a', maxRotation: 90, minRotation: 90, autoSkip: false, padding: 4 },
          grid: { display: false }, border: { display: false } },
        y: { position: 'right', afterFit: s => { s.width = b.mr; },
          ticks: { font: { size: 4.3 }, color: '#1a1a1a', autoSkip: false, padding: 2 },
          grid: { display: false }, border: { display: false } }
      }
    }
  });
})();
// I
volcano({ L: 285, T: 578, R: 503, B: 716, ml: 30, mt: 6, mr: 8, mb: 12 }, {
  base: 1.64, yMin: -0.27, yMax: 16.98, yTicks: iYTicks, xMin: 0.2935, xMax: 1.0, xTicks: iXTicks, fdrX: 0.306, xFmt: v => v.toFixed(1),
  lo: [], hi: iPts.concat(iTagX.map((x, i) => [x, iTagY[i]])), hiColor: '#1a1a1a', hiR: 1.6,
  tags: tagsFrom(iTagNames, iTagX, iTagY, {
    'EGF R': [-13, -5], 'CD206': [12, 7], 'CD163': [6, -5], 'Galectin-1': [-14, -6], 'Cathepsin S': [10, -6],
    'VCAM-1': [-16, -7], 'SLPI': [12, -1], 'Nidogen-1': [-6, 2], 'UPCR': [-29, 1, 1], 'ALCAM': [-10, -7] },
    { 'UPCR': { color: RED, lineColor: RED, lineWidth: 1.3 } })
});
// J
rocChart({ L: 587, T: 578, R: 720, B: 715, ml: 36, mt: 6, mr: 8, mb: 10 }, [
  { spec: jCd206Spec, sens: jCd206Sens, color: '#e15759' },
  { spec: jCd163Spec, sens: jCd163Sens, color: '#f28e2b' },
  { spec: jUpcrSpec, sens: jUpcrSens, color: '#4e79a7' }]);
// K, M
traj({ L: 275, T: 742, R: 440, B: 838, ml: 22, mt: 4, mr: 3, mb: 14 }, {
  mean: kMean, lines: kLines, box: kBox, meanW: 4.5, hw: 3.5, yMin: 0.8, yMax: 11.0, yTicks: [2.5, 5, 7.5], yFmt: v => v.toFixed(1) });
traj({ L: 546, T: 742, R: 708, B: 838, ml: 14, mt: 4, mr: 3, mb: 14 }, {
  mean: mMean, lines: mLines, box: mBox, meanW: 4.5, hw: 3.5, yMin: -0.4, yMax: 8.9, yTicks: [0, 2, 4, 6, 8] });
// L, N facets
const lX = [[275, 345], [349, 419], [423, 493]];
const nX = [[545, 615], [620, 690], [694, 763]];
classes.forEach((cl, f) => {
  traj({ L: lX[f][0], T: 882, R: lX[f][1], B: 923, ml: f ? 0 : 18, mt: 2, mr: 1, mb: 10 }, {
    mean: lMean[f], lines: lLines[f], box: lLines[f].map(set => [0, 1, 2, 3].map(t => fiveNum(set.map(l => l[t])))),
    meanW: 3.5, hw: 2.2, yMin: 0.76, yMax: 9.67, yTicks: [2.5, 5, 7.5], yFmt: v => v.toFixed(1), noY: f > 0, xPad: 1 });
  traj({ L: nX[f][0], T: 877, R: nX[f][1], B: 922, ml: f ? 0 : 12, mt: 2, mr: 1, mb: 9 }, {
    mean: nMean[f], lines: nLines[f], box: nLines[f].map(set => [0, 1, 2, 3].map(t => fiveNum(set.map(l => l[t])))),
    meanW: 3.5, hw: 2.2, yMin: -0.6, yMax: 8.2, yTicks: [0, 2, 4, 6, 8], noY: f > 0, xPad: 0 });
  rect(lX[f][0], 870, lX[f][1] - lX[f][0], 12, 'background:#b3b3b3;');
  txt((lX[f][0] + lX[f][1]) / 2, 876, cl, 6.5, { a: 'c', css: 'color:#fff;' });
  rect(nX[f][0], 865, nX[f][1] - nX[f][0], 12, 'background:#b3b3b3;');
  txt((nX[f][0] + nX[f][1]) / 2, 871, cl, 6.5, { a: 'c', css: 'color:#fff;' });
});

// ================= text, legends =================
const letters = [['A', 5, 7], ['B', 6, 195], ['C', 389, 9], ['D', 389, 193], ['E', 5, 387], ['F', 254, 383], ['G', 552, 385],
  ['H', 6, 575], ['I', 251, 572], ['J', 553, 575], ['K', 240, 755], ['L', 241, 860], ['M', 500, 753], ['N', 502, 859]];
letters.forEach(l => txt(l[1], l[2], l[0], 15, { a: 'c', css: 'font-weight:bold;color:#000;' }));

txt(31, 8, 'Change at 3 months (responders)', 9.5);
txt(31, 192, 'Change at 3 months', 9.5);
txt(31, 203, '(responders - proliferative LN only)', 9.5);
txt(287, 383, 'All classes (class III, IV, V, or mixed, n=95)', 9.5);
txt(286, 570, 'Proliferative (class III or IV +/- V, n=65)', 9.5);

[[88, 167], [283, 363]].forEach(p => {
  txt(15, p[0], '-Log(q)', 8, { a: 'c', rot: 1 });
  txt(30, p[1], 'Increased at 3months <<', 8);
  txt(137, p[1], 'logFC', 8, { a: 'c' });
  txt(249, p[1], '>> Decreased at 3 months', 8, { a: 'r' });
});
[[461, 543, 270], [638, 730, 268]].forEach(p => {
  txt(p[2], p[0], '-Log(q)', 8, { a: 'c', rot: 1 });
  txt(320, p[1], 'No response <<', 8);
  txt(394, p[1], 'AUC', 8, { a: 'c' });
  txt(470, p[1], '>> Any response', 8, { a: 'r' });
});
txt(610, 165, 'OR', 10.5, { a: 'c' });
txt(610, 364, 'OR', 10.5, { a: 'c' });

// C / D legends
const virGrad = 'linear-gradient(to top,' + VIR.join(',') + ')';
[[12, 17, 42, [24, 36, 48, 59], 82, [99, 109, 120, 134, 148], [10, 15, 20, 25, 30]],
 [214, 219, 42, [223, 236, 248, 261], 284, [301, 311, 322, 336], [10, 15, 20, 25]]].forEach(L => {
  txt(675, L[0], '\u2212Log(p value)', 6.2);
  rect(676, L[1], 8, L[2], 'background:' + virGrad + ';');
  ['4', '3', '2', '1'].forEach((s, i) => txt(688, L[3][i], s, 5.5));
  txt(691, L[4], 'Proteins', 6, { a: 'c' });
  txt(691, L[4] + 7, 'in pathway', 6, { a: 'c' });
  L[6].forEach((n, i) => {
    const r = sizeR(n);
    rect(683 - r, L[5][i] - r, 2 * r, 2 * r, 'background:#000;border-radius:50%;');
    txt(696, L[5][i], String(n), 5.5);
  });
});

// E labels
[['Month 12', 125, 415], ['45', 125, 424], ['119', 153, 471], ['62', 99, 481], ['3', 61, 469], ['Month 3', 68, 477],
 ['0', 61, 490], ['4', 74, 496], ['Month 6', 125, 524], ['38', 126, 533]].forEach(v => txt(v[1], v[2], v[0], 6.5, { a: 'c', css: 'color:#333;' }));

// G / J axis titles and AUC tables
[[460, 543], [645, 729]].forEach(p => {
  txt(564, p[0], 'Sensitivity', 8, { a: 'c', rot: 1 });
  txt(654, p[1], 'Specificity', 8, { a: 'c' });
});
function aucTable(y0, rows) {
  txt(693, y0, 'AUC', 6, { a: 'c', css: 'color:#444;' });
  txt(712, y0, 'p', 6, { a: 'c', css: 'color:#444;' });
  rect(645, y0 + 4, 77, 0, 'border-top:0.8px solid #999;');
  rows.forEach((r, i) => {
    const y = y0 + 10 + i * 8;
    txt(646, y, '\u00a6' + r[0], 6, { css: 'color:' + r[3] + ';' });
    txt(699, y, r[1], 6, { a: 'r', css: 'color:' + r[3] + ';' });
    txt(722, y, r[2], 6, { a: 'r', css: 'color:' + r[3] + ';' });
  });
  rect(645, y0 + 6 + rows.length * 8 + 1, 77, 0, 'border-top:0.8px solid #999;');
}
aucTable(478, [['UPCR', '0.76', '0.0013', '#4e79a7'], ['uCD163', '0.86', '1.5e-05', '#f28e2b']]);
aucTable(665, [['UPCR', '0.8', '0.0021', '#4e79a7'], ['uCD163', '0.89', '0.00022', '#f28e2b'], ['uCD206', '0.93', '0.00025', '#e15759']]);

// H header and z legend
txt(79, 575, 'Responders', 7, { a: 'c' });
txt(127, 575, 'Nonresponders', 7, { a: 'c' });
txt(177, 897, 'Z Score', 6.5, { css: 'font-weight:bold;' });
rect(177, 904, 47, 7, 'background:linear-gradient(to right,' + ZSTOPS.map(s => s[1]).join(',') + ');');
[['\u22122', 178], ['\u22121', 190], ['0', 200], ['1', 211], ['2', 222]].forEach(v => txt(v[1], 917, v[0], 6.5, { a: 'c' }));

// K / M / L / N titles and legends
txt(257, 790, 'CD163 abundance (log)', 9, { a: 'c', rot: 1 });
txt(257, 904, 'CD163 abundance (log)', 9, { a: 'c', rot: 1 });
txt(523, 790, 'CD206 abundance (log)', 9, { a: 'c', rot: 1 });
txt(523, 900, 'CD206 abundance (log)', 9, { a: 'c', rot: 1 });
[[443, 780], [715, 774]].forEach(p => {
  txt(p[0], p[1], 'Week 52 response', 5.8);
  groups.forEach((g, i) => {
    const y = p[1] + 10 + i * 9;
    rect(p[0] + 2, y - 3.5, 9, 7, 'background:' + GC[i] + ';');
    rect(p[0] + 2, y - 0.5, 9, 1, 'background:#fff;');
    txt(p[0] + 15, y, g, 5);
  });
});
</script>
</body>
</html>
